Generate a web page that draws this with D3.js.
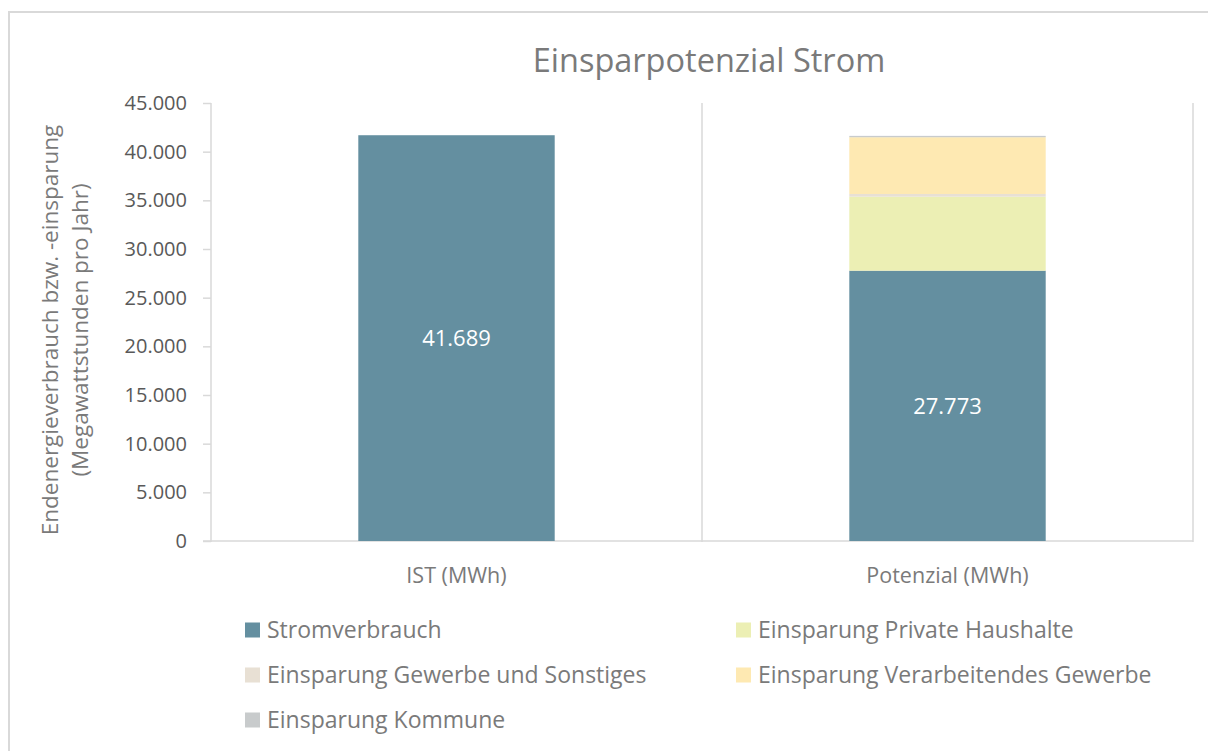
<!DOCTYPE html>
<html lang="de">
<head>
<meta charset="utf-8">
<title>Einsparpotenzial Strom</title>
<script src="https://d3js.org/d3.v7.min.js"></script>
<style>
  body { margin: 0; background: #fff; }
  svg { display: block; font-family: "Open Sans", Lato, sans-serif; }
</style>
</head>
<body>
<svg id="chart" width="1208" height="751"></svg>
<script>
// categories and series (MWh)
const categories = ['IST (MWh)', 'Potenzial (MWh)'];
const seriesNames = [
  'Stromverbrauch',
  'Einsparung Private Haushalte',
  'Einsparung Gewerbe und Sonstiges',
  'Einsparung Verarbeitendes Gewerbe',
  'Einsparung Kommune'
];
const stromverbrauch = [41689, 27773];
const privateHaushalte = [0, 7600];
const gewerbeSonstiges = [0, 280];
const verarbeitendesGewerbe = [0, 5830];
const kommune = [0, 140];
const seriesColors = ['#648fa0', '#ecefb4', '#e8e0d4', '#fee9b2', '#c8cbcc'];
const yTicks = [0, 5000, 10000, 15000, 20000, 25000, 30000, 35000, 40000, 45000];

const rows = categories.map((c, i) => ({
  cat: c,
  [seriesNames[0]]: stromverbrauch[i],
  [seriesNames[1]]: privateHaushalte[i],
  [seriesNames[2]]: gewerbeSonstiges[i],
  [seriesNames[3]]: verarbeitendesGewerbe[i],
  [seriesNames[4]]: kommune[i]
}));

const svg = d3.select('#chart');
const margin = { left: 211, right: 15, top: 103, bottom: 210 };
const W = 1208, H = 751;
const grey = '#d9d9d9';
const darkText = '#595959';
const lightText = '#7a7a7a';
const fmt = v => d3.format(',')(v).replace(/,/g, '.');

// outer frame
svg.append('rect')
  .attr('x', 9).attr('y', 12).attr('width', 1220).attr('height', 760)
  .attr('fill', 'none').attr('stroke', grey).attr('stroke-width', 2);

const x = d3.scaleBand().domain(categories)
  .range([margin.left, W - margin.right]).paddingInner(0).paddingOuter(0);
const y = d3.scaleLinear().domain([0, 45000]).range([H - margin.bottom, margin.top]);

// category separators
const seps = [x.range()[0], ...categories.map(c => x(c) + x.bandwidth())];
svg.append('g').selectAll('line').data(seps).join('line')
  .attr('x1', d => d).attr('x2', d => d)
  .attr('y1', y(45000)).attr('y2', y(0) + 1)
  .attr('stroke', grey).attr('stroke-width', 1.5);

// y axis
const yAxis = svg.append('g')
  .attr('transform', `translate(${margin.left},0)`)
  .call(d3.axisLeft(y).tickValues(yTicks).tickSize(8).tickPadding(16).tickFormat(fmt));
yAxis.select('.domain').remove();
yAxis.selectAll('.tick line').attr('stroke', grey).attr('stroke-width', 1.5);
yAxis.selectAll('.tick text').attr('fill', darkText)
  .style('font-size', '20px').style('font-family', '"Open Sans", sans-serif');

// x baseline
svg.append('line')
  .attr('x1', margin.left - 8).attr('x2', W - margin.right)
  .attr('y1', y(0)).attr('y2', y(0))
  .attr('stroke', grey).attr('stroke-width', 1.5);

// stacked bars
const stacked = d3.stack().keys(seriesNames)(rows);
const barW = x.bandwidth() * 0.4;
const layers = svg.append('g').selectAll('g').data(stacked).join('g')
  .attr('fill', (d, i) => seriesColors[i]);
layers.selectAll('rect').data(d => d).join('rect')
  .attr('x', d => x(d.data.cat) + (x.bandwidth() - barW) / 2)
  .attr('width', barW)
  .attr('y', d => y(d[1]))
  .attr('height', d => Math.max(0, y(d[0]) - y(d[1])));

// data labels on Stromverbrauch
svg.append('g').selectAll('text').data(stacked[0]).join('text')
  .attr('x', d => x(d.data.cat) + x.bandwidth() / 2)
  .attr('y', d => (y(d[0]) + y(d[1])) / 2)
  .attr('dy', '0.35em')
  .attr('text-anchor', 'middle')
  .attr('fill', '#fff')
  .style('font-size', '22px')
  .text(d => fmt(d[1] - d[0]));

// category labels
svg.append('g').selectAll('text').data(categories).join('text')
  .attr('x', d => x(d) + x.bandwidth() / 2)
  .attr('y', y(0) + 42)
  .attr('text-anchor', 'middle')
  .attr('fill', lightText)
  .style('font-size', '21.5px')
  .text(d => d);

// title
svg.append('text')
  .attr('x', 709).attr('y', 72)
  .attr('text-anchor', 'middle')
  .attr('fill', lightText)
  .style('font-size', '32.5px')
  .text('Einsparpotenzial Strom');

// y axis title
const yTitle = svg.append('text')
  .attr('transform', `translate(65,330) rotate(-90)`)
  .attr('text-anchor', 'middle')
  .attr('fill', lightText)
  .style('font-size', '22.5px');
yTitle.append('tspan').attr('x', 0).attr('dy', '-0.3em').text('Endenergieverbrauch bzw. -einsparung');
yTitle.append('tspan').attr('x', 0).attr('dy', '1.33em').text('(Megawattstunden pro Jahr)');

// legend (2 columns, row-major)
const legendPos = seriesNames.map((n, i) => ({
  name: n, color: seriesColors[i],
  lx: i % 2 === 0 ? 245 : 736,
  ly: 630 + Math.floor(i / 2) * 45
}));
const lg = svg.append('g').selectAll('g').data(legendPos).join('g')
  .attr('transform', d => `translate(${d.lx},${d.ly})`);
lg.append('rect').attr('x', 0).attr('y', -7.5).attr('width', 15).attr('height', 15)
  .attr('fill', d => d.color);
lg.append('text').attr('x', 22).attr('dy', '0.36em')
  .attr('fill', lightText).style('font-size', '23px')
  .text(d => d.name);
</script>
</body>
</html>
